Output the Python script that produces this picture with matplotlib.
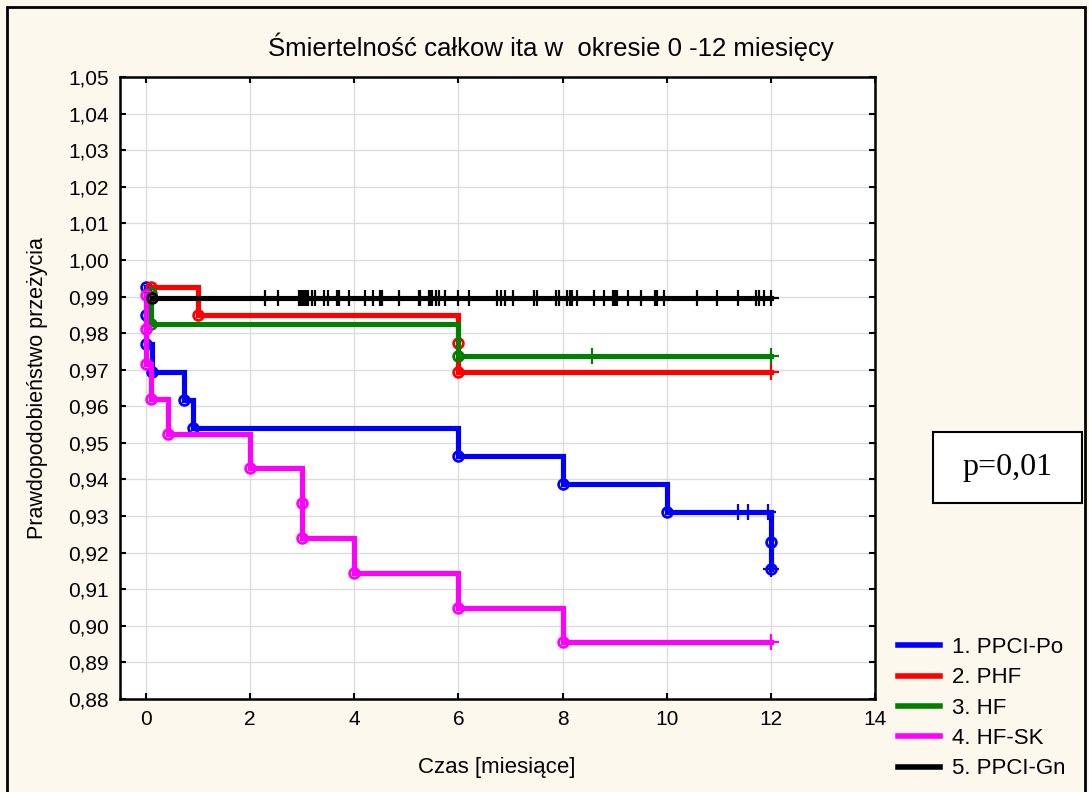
import numpy as np
import matplotlib
matplotlib.use("Agg")
import matplotlib.pyplot as plt
from matplotlib.patches import Rectangle
from matplotlib.ticker import FuncFormatter

plt.rcParams['font.family'] = ['Liberation Sans', 'DejaVu Sans']

# czasy zgonów i przeżycie po każdym zdarzeniu (Kaplan-Meier)
po_t = [0, 0, 0, 0.12, 0.72, 0.9, 6, 8, 10, 12, 12]
po_s = [0.9925, 0.985, 0.977, 0.9695, 0.9617, 0.954, 0.9465, 0.9388, 0.931, 0.923, 0.9155]
po_cens = [11.37, 11.56, 11.95, 12]

phf_t = [0.1, 1.0, 6, 6]
phf_s = [0.9925, 0.985, 0.9772, 0.9695]
phf_cens = [12]

hf_t = [0.1, 0.1, 6]
hf_s = [0.991, 0.9825, 0.9737]
hf_cens = [8.56, 12]

sk_t = [0, 0, 0, 0.1, 0.42, 2, 3, 3, 4, 6, 8]
sk_s = [0.9905, 0.981, 0.9715, 0.962, 0.9525, 0.943, 0.9335, 0.924, 0.9145, 0.905, 0.8955]
sk_cens = [12]

gn_t = [0.12]
gn_s = [0.9897]
gn_cens = [2.29, 2.54, 2.94, 2.97, 3.0, 3.03, 3.07, 3.12, 3.19, 3.24, 3.42, 3.49,
           3.67, 3.7, 3.89, 4.2, 4.35, 4.5, 4.53, 4.85, 5.24, 5.27, 5.43, 5.46,
           5.5, 5.56, 5.62, 5.75, 5.99, 6.2, 6.74, 6.81, 6.9, 7.05, 7.45, 7.5,
           7.87, 7.94, 8.09, 8.14, 8.19, 8.28, 8.6, 8.8, 8.96, 8.99, 9.02, 9.05,
           9.26, 9.5, 9.77, 9.82, 9.95, 10.58, 10.96, 11.36, 11.71, 11.78, 11.86, 12.0]

labels = ['1. PPCI-Po', '2. PHF', '3. HF', '4. HF-SK', '5. PPCI-Gn']
colors = ['#0000ff', '#ff0000', '#008000', '#ff00ff', '#000000']
t_end = 12

bg = '#fdf8ed'
fig = plt.figure(figsize=(10.89, 7.92), dpi=100, facecolor=bg)
ax = fig.add_axes([120 / 1089, 93 / 792, 755 / 1089, 622 / 792])
ax.set_facecolor('white')

series = [(po_t, po_s, po_cens), (phf_t, phf_s, phf_cens), (hf_t, hf_s, hf_cens),
          (sk_t, sk_s, sk_cens), (gn_t, gn_s, gn_cens)]

for (t, s, cens), lab, c in zip(series, labels, colors):
    t = np.array(t, dtype=float)
    s = np.array(s, dtype=float)
    ax.step(np.append(t, t_end), np.append(s, s[-1]), where='post',
            color=c, lw=3.7, label=lab, solid_joinstyle='miter')
    # zdarzenia - puste kółka
    ax.plot(t, s, 'o', ms=7, mfc='none', mec=c, mew=2)
    # obserwacje ucięte
    idx = np.searchsorted(t, cens, side='right') - 1
    ax.plot(cens, s[idx], '+', ms=11, mec=c, mew=1.6)

ax.set_xlim(-0.5, 14)
ax.set_ylim(0.88, 1.05)
ax.set_xticks(np.arange(0, 15, 2))
ax.set_yticks(np.arange(0.88, 1.0501, 0.01))
ax.yaxis.set_major_formatter(FuncFormatter(lambda v, p: f'{v:.2f}'.replace('.', ',')))
ax.tick_params(direction='in', length=4, width=1.5, labelsize=15, pad=8,
               top=True, right=True, colors='black')
ax.grid(True, color='#dcdcdc', lw=1)
ax.set_axisbelow(True)
for sp in ax.spines.values():
    sp.set_linewidth(1.8)

fig.text(551 / 1089, 1 - 47 / 792, 'Śmiertelność całkow ita w  okresie 0 -12 miesięcy',
         ha='center', va='center', fontsize=18.5)
fig.text(497 / 1089, 1 - 768 / 792, 'Czas [miesiące]', ha='center', va='center', fontsize=16)
fig.text(38 / 1089, 1 - 388 / 792, 'Prawdopodobieństwo przeżycia', ha='center', va='center',
         rotation=90, fontsize=15.5)

leg = fig.legend(loc='upper left', bbox_to_anchor=(898 / 1089, 1 - 637 / 792),
                 frameon=False, fontsize=16, handlelength=1.9, handletextpad=0.55,
                 labelspacing=0.42, borderpad=0, borderaxespad=0)
for h in leg.legend_handles:
    h.set_linewidth(4)

# ramka z wartością p
fig.patches.append(Rectangle((933 / 1089, 1 - 503 / 792), 149 / 1089, 71 / 792,
                             transform=fig.transFigure, facecolor='white',
                             edgecolor='black', lw=1.5))
fig.text(1007 / 1089, 1 - 467 / 792, 'p=0,01', ha='center', va='center',
         fontsize=23, family='Liberation Serif')

# zewnętrzna ramka wykresu
fig.patches.append(Rectangle((7 / 1089, -0.1), 1078 / 1089, 1.1 - 7 / 792,
                             transform=fig.transFigure, facecolor='none',
                             edgecolor='black', lw=2))

fig.savefig('out.png', dpi=100, facecolor=bg)
